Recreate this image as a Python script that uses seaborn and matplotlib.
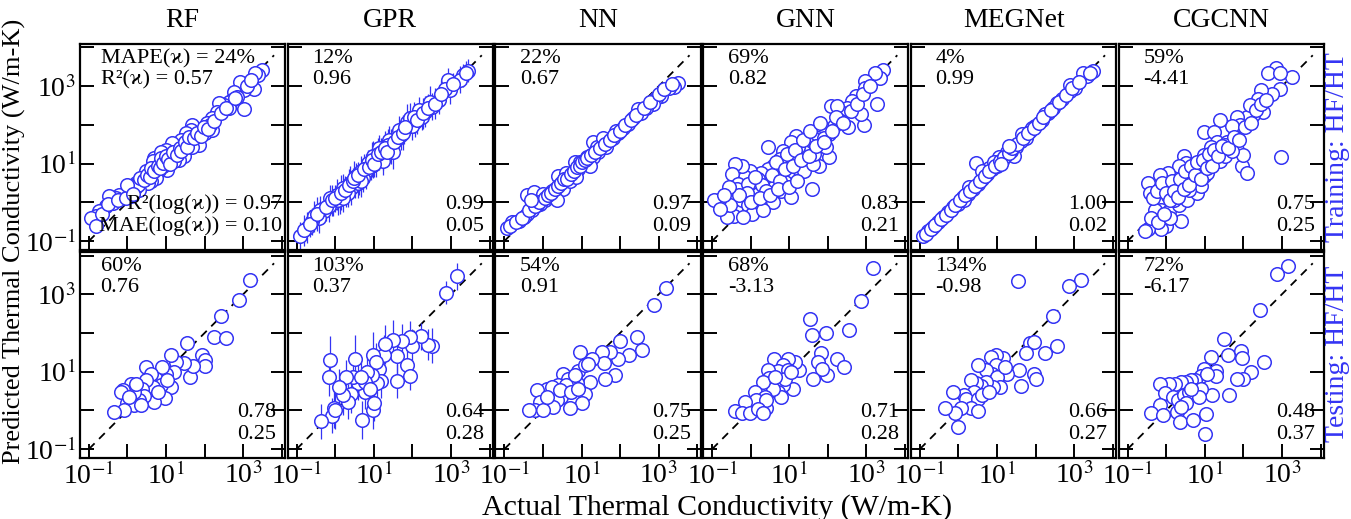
import numpy as np
import pandas as pd
import matplotlib
matplotlib.use("Agg")
import matplotlib.pyplot as plt
import seaborn as sns
from matplotlib.ticker import FixedLocator, NullLocator, FuncFormatter

# ---------------- data (log10 of thermal conductivity) ----------------
models = ["RF", "GPR", "NN", "GNN", "MEGNet", "CGCNN"]

# training: (log10 actual, log10 predicted)
rf_train = [(3.48,3.41),(3.39,3.28),(3.31,3.33),(3.27,2.94),(3.01,2.40),(3.01,2.90),(2.92,3.11),(2.75,2.86),
            (2.71,2.64),(2.62,2.60),(2.49,2.51),(2.36,2.56),(2.32,2.34),(2.19,2.17),(2.06,2.04),(1.94,1.87),
            (1.85,1.74),(1.76,1.61),(1.68,2.00),(1.64,1.87),(1.51,1.78),(1.42,1.48),(1.38,1.61),(1.25,1.40),
            (1.16,1.53),(1.12,1.27),(0.99,1.36),(0.95,1.19),(0.82,1.06),(0.73,0.93),(0.69,1.14),(0.65,0.84),
            (0.56,0.76),(0.48,0.80),(0.39,0.63),(0.35,0.54),(0.22,0.50),(0.13,0.41),(0.05,0.33),(-0.04,0.24),
            (-0.12,0.16),(-0.21,0.20),(-0.30,0.11),(-0.38,-0.01),(-0.47,0.16),(-0.55,-0.10),(-0.73,-0.23),
            (-0.81,-0.36),(-0.94,-0.40),(-0.81,-0.61),(1.46,1.19),(1.33,1.10),(1.21,1.06),(1.03,0.84),
            (0.91,0.93),(0.82,0.84),(0.73,0.63),(0.61,0.54),(0.52,0.50),(0.30,0.33),(0.09,0.16),(1.85,1.49),
            (2.02,1.78),(2.19,1.87),(1.68,1.44),(0.86,1.31),(0.65,1.06),(0.99,1.10),(2.15,2.00),(2.62,2.43),
            (2.84,2.73),
            (0.10,0.30),(0.20,0.38),(0.28,0.45),(0.33,0.62),(0.44,0.58),(0.50,0.70),(0.58,0.66),(0.62,0.90),
            (0.70,0.80),(0.78,0.95),(0.85,0.88),(0.88,1.15),(0.93,1.02),(1.00,1.20),(1.06,1.12),(1.10,1.00),
            (1.18,1.30),(1.28,1.22),(1.35,1.40),(1.40,1.32),(1.50,1.55),(1.55,1.42),(1.60,1.70),(1.72,1.65),
            (1.80,1.80),(1.90,1.72),(1.98,1.95),(2.08,1.90),(2.25,2.10),(2.42,2.30),(2.55,2.45),(2.80,2.70),
            (3.10,3.00),(3.20,3.15),(-0.65,-0.30),(-0.50,-0.05),(-0.25,0.05),(-0.05,0.10),(0.00,0.45),
            (0.15,0.22)]

# GPR training: (log10 actual, log10 predicted, error half-length in decades)
gpr_train = [(3.44,3.40,0.30),(3.31,3.28,0.30),(3.23,3.17,0.35),(2.97,2.90,0.35),(2.93,3.16,0.30),
             (2.68,2.64,0.35),(2.51,2.47,0.35),(2.34,2.34,0.40),(2.25,2.21,0.35),(2.08,2.08,0.40),
             (2.00,1.96,0.35),(1.87,2.08,0.45),(1.78,1.87,0.35),(1.70,1.74,0.40),(1.57,1.61,0.35),
             (1.44,1.44,0.45),(1.31,1.31,0.35),(1.23,1.23,0.40),(1.14,1.14,0.30),(1.06,1.06,0.40),
             (0.93,0.93,0.35),(0.80,0.80,0.45),(0.72,0.63,0.35),(0.63,0.59,0.40),(0.51,0.46,0.35),
             (0.42,0.37,0.45),(0.29,0.24,0.35),(0.12,0.11,0.40),(-0.05,-0.01,0.35),(-0.17,-0.10,0.40),
             (-0.30,-0.23,0.30),(-0.43,-0.40,0.40),(-0.60,-0.49,0.35),(-0.73,-0.66,0.40),(-0.90,-0.87,0.35),
             (1.40,1.61,0.35),(1.49,1.31,0.45),(1.14,1.40,0.35),(0.97,1.19,0.40),(0.85,1.01,0.35),
             (0.68,0.80,0.40),(0.55,0.67,0.35),(0.38,0.50,0.45),(0.21,0.37,0.35),(0.04,0.20,0.40),
             (-0.13,0.11,0.35),(0.08,0.07,0.40),(-0.39,-0.19,0.35),(-0.56,-0.36,0.40),(2.17,2.38,0.35),
             (1.95,2.17,0.40),(1.66,1.87,0.35),(1.36,1.49,0.40),(0.97,0.97,0.35),(0.59,0.50,0.40),
             (0.34,0.24,0.35),(2.85,2.94,0.35),(2.46,2.60,0.40),(1.23,1.06,0.35),(0.68,0.54,0.40),
             (0.21,0.11,0.35),
             (-0.80,-0.72,0.40),(-0.65,-0.55,0.35),(-0.48,-0.30,0.45),(-0.25,-0.12,0.35),(-0.08,0.05,0.40),
             (0.00,0.10,0.35),(0.15,0.25,0.45),(0.25,0.32,0.35),(0.35,0.45,0.40),(0.45,0.55,0.35),
             (0.50,0.62,0.45),(0.60,0.70,0.35),(0.75,0.85,0.40),(0.88,0.92,0.35),(0.95,1.10,0.45),
             (1.00,1.00,0.35),(1.10,1.25,0.40),(1.18,1.30,0.35),(1.28,1.40,0.45),(1.35,1.30,0.35),
             (1.52,1.55,0.40),(1.62,1.70,0.35),(1.75,1.80,0.45),(1.82,1.95,0.35),(2.05,2.20,0.40),
             (2.12,2.12,0.35),(2.28,2.30,0.40),(2.40,2.45,0.35),(2.58,2.55,0.40),(2.75,2.80,0.35),
             (3.05,3.05,0.30),(3.38,3.35,0.30)]

nn_train = [(3.49,3.09),(3.40,2.98),(3.27,2.96),(3.06,2.74),(2.93,2.70),(2.85,2.53),(2.67,2.44),(2.55,2.32),
            (2.33,2.19),(2.20,2.02),(2.07,1.93),(1.94,1.80),(1.82,1.67),(1.69,1.59),(1.56,1.46),(1.30,1.55),
            (1.43,1.29),(1.30,1.16),(1.17,1.07),(1.04,0.99),(0.91,0.86),(0.79,0.77),(0.66,0.65),(0.53,0.47),
            (0.44,0.35),(0.31,0.26),(0.18,0.13),(0.06,0.05),(-0.07,-0.04),(-0.16,-0.08),(-0.29,-0.21),
            (-0.42,-0.30),(-0.50,-0.38),(-0.63,-0.47),(-0.80,-0.51),(-0.93,-0.66),(-0.42,0.20),(-0.24,0.26),
            (0.83,1.03),(1.13,1.16),(0.53,0.35),(0.70,0.56),(0.40,0.69),(0.96,1.03),(1.39,1.42),(1.64,1.42),
            (1.90,1.84),(2.46,2.40),(1.21,0.95),(0.36,0.05),(0.23,0.30),(0.01,0.22),(0.61,0.77),(1.56,1.67),
            (0.87,0.65),
            (-0.85,-0.60),(-0.70,-0.50),(-0.55,-0.40),(-0.35,-0.20),(-0.20,-0.10),(-0.10,0.02),(0.05,0.12),
            (0.12,0.20),(0.22,0.25),(0.30,0.35),(0.38,0.42),(0.47,0.50),(0.55,0.60),(0.62,0.60),(0.72,0.72),
            (0.80,0.82),(0.88,0.92),(0.95,0.95),(1.00,1.05),(1.08,1.10),(1.15,1.15),(1.25,1.22),(1.35,1.30),
            (1.48,1.40),(1.60,1.50),(1.75,1.62),(1.85,1.75),(2.00,1.85),(2.12,2.00),(2.28,2.12),(2.40,2.25),
            (2.62,2.45),(2.78,2.60),(3.00,2.80),(3.15,2.92),(3.35,3.05),(-0.30,0.05)]

gnn_train = [(3.44,3.43),(3.36,3.22),(3.23,3.34),(3.27,2.55),(2.97,3.13),(2.97,2.96),(2.93,2.00),(2.85,2.27),
             (2.72,2.74),(2.63,2.62),(2.50,2.44),(2.38,2.32),(2.52,1.95),(2.08,2.49),(2.33,2.10),(2.16,1.97),
             (2.03,1.76),(1.86,1.93),(1.74,1.67),(2.03,1.18),(1.95,1.42),(1.78,0.95),(1.61,1.67),(1.48,1.50),
             (1.39,1.29),(1.22,1.42),(1.18,1.72),(1.05,1.55),(1.05,1.16),(1.22,0.86),(1.59,0.35),(0.97,0.65),
             (0.88,1.03),(0.84,1.33),(0.75,1.12),(0.71,0.82),(0.58,0.95),(0.45,1.42),(0.45,0.86),(0.50,0.65),
             (0.37,0.52),(0.28,0.77),(0.20,0.60),(0.11,0.39),(0.07,0.13),(0.20,0.22),(-0.02,0.82),(-0.15,0.65),
             (-0.23,0.95),(-0.40,0.99),(-0.49,0.73),(-0.32,0.47),(-0.36,0.35),(-0.23,0.05),(-0.06,-0.08),
             (-0.44,-0.34),(-0.62,-0.38),(-0.66,-0.08),(-0.53,-0.08),(-0.83,0.05),(-0.96,0.05),(-0.79,-0.17),
             (0.58,0.00),(0.79,0.30),(1.39,0.82),(1.61,0.99),(1.05,0.13),(0.03,-0.30),(0.32,-0.21),(0.88,0.52),
             (0.62,0.43),(-0.06,0.47),(-0.19,-0.38),(1.91,1.67),(2.25,2.49),(1.65,1.25),
             (0.30,0.45),(0.40,0.30),(0.55,0.70),(0.65,1.05),(0.75,0.55),(0.90,0.85),(0.95,1.25),(1.10,0.95),
             (1.15,1.35),(1.30,1.10),(1.35,1.60),(1.50,1.20),(1.55,1.85),(1.70,1.45),(1.80,2.05),(1.90,1.55),
             (2.10,1.85),(2.20,2.20),(2.40,2.05),(2.60,2.35),(2.75,2.55),(2.90,2.80),(3.10,3.00),(0.10,0.65),
             (-0.10,0.25),(-0.30,0.20),(0.00,0.00),(0.25,0.10),(0.50,0.20),(0.70,0.35),(1.00,0.40),(1.20,0.55),
             (-0.55,0.40),(-0.70,0.20)]

megnet_train = [(3.49,3.39),(3.32,3.26),(3.02,2.96),(2.89,2.87),(2.68,2.66),(2.46,2.44),(2.33,2.32),
                (2.16,2.14),(1.99,1.97),(1.86,1.84),(1.74,1.67),(1.61,1.59),(1.48,1.42),(1.44,1.20),
                (1.35,1.33),(1.22,1.20),(1.14,1.07),(1.01,0.95),(0.88,0.86),(0.75,0.73),(0.62,0.60),
                (0.45,1.01),(0.50,0.47),(0.37,0.35),(0.24,0.22),(0.11,0.13),(-0.02,-0.04),(-0.15,-0.13),
                (-0.27,-0.25),(-0.40,-0.38),(-0.53,-0.51),(-0.66,-0.64),(-0.79,-0.73),(-0.91,-0.88),
                (1.05,1.16),(0.79,0.90),(0.92,1.03),(0.67,0.73),(0.28,0.39),(1.65,1.76),(1.91,1.93),
                (2.55,2.57),(2.89,3.04),(3.23,3.34),(2.25,2.27),(1.26,1.29),(0.62,0.82),(0.15,0.05),
                (-0.85,-0.82),(-0.72,-0.70),(-0.60,-0.58),(-0.45,-0.44),(-0.33,-0.32),(-0.20,-0.20),
                (-0.08,-0.08),(0.05,0.05),(0.18,0.18),(0.30,0.30),(0.42,0.42),(0.55,0.55),(0.70,0.68),
                (0.80,0.80),(0.95,0.93),(1.08,1.08),(1.18,1.16),(1.30,1.28),(1.40,1.40),(1.52,1.50),
                (1.68,1.66),(1.80,1.78),(1.95,1.93),(2.08,2.06),(2.20,2.20),(2.40,2.38),(2.60,2.60),
                (2.78,2.78),(2.95,2.95),(3.12,3.12),(3.40,3.35),(1.32,1.45),(1.10,1.00)]

cgcnn_train = [(3.26,3.24),(2.85,3.46),(2.64,3.34),(2.94,3.33),(2.94,2.92),(2.73,2.81),(2.47,2.90),
               (2.38,2.68),(2.51,2.34),(2.26,2.26),(2.09,2.21),(1.83,2.21),(1.92,2.00),(1.70,1.96),
               (1.40,2.13),(0.98,1.83),(1.23,1.83),(1.32,1.57),(1.15,1.44),(1.57,1.57),(1.83,1.36),
               (1.96,0.93),(2.09,0.76),(2.00,1.23),(2.98,1.17),(0.47,1.19),(0.51,1.01),(0.34,0.93),
               (0.04,0.76),(-0.17,0.71),(-0.47,0.50),(-0.43,0.24),(-0.17,0.37),(0.04,0.41),(0.25,0.54),
               (0.55,0.67),(0.72,0.84),(0.89,0.93),(1.06,1.06),(1.28,1.14),(0.76,0.46),(0.98,0.67),
               (0.64,0.59),(0.38,0.29),(0.17,0.16),(-0.05,0.07),(-0.22,0.03),(-0.13,-0.19),(0.08,-0.23),
               (-0.30,-0.40),(0.00,-0.61),(-0.13,-0.70),(0.38,-0.49),(-0.47,-0.70),(-0.56,-0.74),
               (0.34,-0.06),(0.55,0.07),(0.81,0.24),(0.25,0.41),(0.47,0.54),(0.72,0.63),(0.89,0.41),
               (1.06,0.76),(1.40,1.06),(1.53,1.19),(1.70,1.32),(-0.30,-0.19),(0.04,0.16),(0.21,0.07),
               (0.59,0.33),(0.98,1.23),(1.53,1.48),(2.17,2.51),(2.34,2.38),
               (-0.35,0.10),(-0.25,0.30),(-0.10,0.50),(0.00,0.25),(0.10,0.05),(0.15,0.55),(0.20,0.30),
               (0.30,0.15),(0.35,0.60),(0.45,0.35),(0.50,0.80),(0.60,0.45),(0.65,0.95),(0.75,0.70),
               (0.80,1.05),(0.90,0.60),(0.95,1.10),(1.05,0.90),(1.10,1.25),(1.20,0.95),(1.25,1.35),
               (1.35,1.20),(1.45,1.45),(1.60,1.40),(1.75,1.70),(1.90,1.60),(2.05,1.95),(2.20,2.05),
               (2.45,2.55),(2.60,2.65),(-0.40,-0.40),(-0.20,-0.50),(0.10,-0.40),(-0.05,-0.30)]

# testing: (log10 actual, log10 predicted)
rf_test = [(3.18,3.36),(2.88,2.86),(2.43,2.43),(2.24,1.90),(2.56,1.87),(1.55,1.74),(1.94,1.44),(2.00,1.31),
           (2.02,1.14),(1.61,0.85),(1.70,1.14),(1.46,1.23),(1.25,1.25),(1.12,1.44),(1.21,0.99),(1.00,0.95),
           (0.89,1.12),(0.73,0.82),(0.48,1.12),(0.61,0.95),(1.12,0.61),(0.97,0.31),(0.86,0.65),(0.67,0.61),
           (0.48,0.78),(0.39,0.56),(0.69,0.22),(0.42,0.38),(0.30,0.26),(0.18,0.48),(0.09,0.69),(-0.12,0.52),
           (-0.17,0.48),(0.00,0.18),(0.18,0.15),(0.35,0.13),(-0.08,0.00),(-0.34,-0.04),(0.05,0.35),
           (0.22,0.69),(0.78,0.48),(1.03,0.78)]

gpr_test = [(3.16,3.46,0.35),(2.86,3.04,0.30),(2.52,1.67,0.45),(2.40,1.70,0.40),(2.23,1.91,0.35),
            (2.00,1.66,0.45),(1.94,1.90,0.40),(1.72,1.79,0.45),(1.51,1.83,0.50),(1.59,1.40,0.45),
            (1.85,1.18,0.40),(1.94,0.88,0.35),(1.61,0.76,0.45),(1.27,1.44,0.50),(1.14,1.08,0.45),
            (0.99,1.42,0.60),(1.06,1.25,0.50),(1.19,0.76,0.45),(1.09,0.71,0.40),(0.96,0.91,0.50),
            (0.83,0.99,0.45),(0.76,0.48,0.45),(0.99,0.01,0.50),(1.01,0.18,0.45),(0.70,-0.25,0.50),
            (0.59,0.71,0.45),(0.51,1.34,0.60),(0.46,0.87,0.50),(0.29,0.85,0.45),(0.42,0.42,0.50),
            (0.32,0.22,0.45),(0.19,0.39,0.50),(0.11,0.61,0.45),(-0.03,0.05,0.50),(-0.13,1.31,0.60),
            (-0.15,0.87,0.50),(-0.09,-0.14,0.45),(0.00,0.01,0.50),(-0.36,-0.28,0.45),(0.76,0.73,0.45),
            (0.68,0.87,0.50),(0.89,0.56,0.45),(1.30,1.71,0.50)]

nn_test = [(3.19,3.15),(2.87,2.71),(2.44,1.89),(2.56,1.55),(2.24,1.44),(2.00,1.78),(1.94,1.33),(1.73,1.52),
           (1.53,1.52),(1.86,0.92),(1.61,0.80),(1.58,1.23),(1.26,1.33),(0.96,1.52),(1.21,0.73),(1.09,0.43),
           (0.89,0.72),(1.00,0.18),(0.70,0.05),(0.51,0.95),(0.66,0.82),(0.79,0.65),(0.91,1.03),(1.09,1.16),
           (0.40,0.65),(0.27,0.43),(0.48,0.35),(0.36,0.26),(0.27,0.09),(0.10,0.56),(-0.16,0.52),(-0.07,0.22),
           (-0.20,0.00),(-0.37,0.02),(0.01,0.00),(0.23,0.61),(0.61,0.65),(0.83,0.91),(1.17,1.21),(0.10,0.35),
           (0.44,0.52),(0.74,0.48),(0.91,0.56)]

gnn_test = [(3.17,3.68),(2.86,2.82),(1.55,2.37),(1.59,1.94),(1.95,2.01),(2.55,2.07),(1.82,1.49),(1.74,1.24),
            (2.23,1.32),(2.42,1.12),(1.99,0.91),(1.85,1.06),(1.61,0.82),(1.26,1.04),(1.15,1.24),(0.97,1.34),
            (0.61,1.34),(0.84,1.18),(0.71,1.01),(0.45,1.04),(0.48,0.84),(0.97,1.04),(1.09,0.55),(0.84,0.65),
            (0.90,0.82),(0.71,0.48),(0.79,0.35),(0.58,0.56),(0.32,0.74),(0.11,0.48),(0.37,0.35),(0.15,0.26),
            (0.41,0.05),(0.41,0.28),(-0.15,0.22),(-0.40,-0.02),(-0.23,-0.08),(-0.02,-0.08),(0.20,0.03),
            (0.32,-0.08),(0.62,0.87),(1.05,0.99)]

megnet_test = [(1.55,3.33),(3.17,3.36),(2.87,3.21),(2.44,2.44),(2.55,1.67),(2.25,1.47),(1.86,1.73),
               (1.97,1.77),(1.74,1.49),(1.58,1.04),(1.61,0.63),(1.97,0.95),(2.02,0.82),(1.26,0.93),
               (1.15,1.36),(0.98,1.42),(0.84,1.38),(0.97,1.17),(0.86,0.95),(0.71,1.04),(0.50,1.18),
               (1.01,0.87),(1.09,0.61),(0.90,0.61),(0.71,0.74),(0.58,0.63),(0.45,0.71),(0.32,0.78),
               (0.41,0.48),(0.15,0.41),(-0.15,0.48),(0.20,0.29),(0.50,0.29),(0.32,0.05),(0.50,-0.02),
               (0.07,0.05),(-0.10,-0.06),(-0.36,0.05),(-0.02,-0.42),(0.62,0.39),(1.22,1.13),(0.79,0.48)]

cgcnn_test = [(3.15,3.72),(2.87,3.53),(2.43,2.60),(1.51,1.84),(1.60,1.42),(1.93,1.54),(1.96,1.36),
              (2.53,1.24),(2.21,0.98),(2.00,0.80),(1.83,0.82),(1.62,0.39),(1.15,1.38),(1.28,1.02),
              (1.28,0.88),(1.19,0.39),(0.98,1.08),(0.89,0.88),(0.76,0.78),(0.64,0.78),(0.51,0.74),
              (0.38,0.74),(0.23,0.69),(0.08,0.68),(-0.17,0.68),(-0.02,0.44),(0.17,0.35),(0.30,0.26),
              (0.47,0.39),(0.59,0.48),(0.76,0.52),(0.89,0.56),(-0.17,0.14),(-0.39,-0.06),(-0.09,-0.12),
              (0.28,-0.04),(0.36,-0.29),(0.70,-0.25),(1.02,-0.10),(1.00,-0.61),(0.85,0.35),(0.51,0.18),
              (0.38,0.09),(1.06,0.95),(0.64,0.56)]

train_top_text = ["MAPE(ϰ) = 24%\nR²(ϰ) = 0.57", "12%\n0.96", "22%\n0.67", "69%\n0.82", "4%\n0.99", "59%\n-4.41"]
train_bot_text = ["R²(log(ϰ)) = 0.97\nMAE(log(ϰ)) = 0.10", "0.99\n0.05", "0.97\n0.09", "0.83\n0.21", "1.00\n0.02", "0.75\n0.25"]
test_top_text = ["60%\n0.76", "103%\n0.37", "54%\n0.91", "68%\n-3.13", "134%\n-0.98", "72%\n-6.17"]
test_bot_text = ["0.78\n0.25", "0.64\n0.28", "0.75\n0.25", "0.71\n0.28", "0.66\n0.27", "0.48\n0.37"]

tick_exponents = [-1, 0, 1, 2, 3, 4]
labeled_exponents = [-1, 1, 3]
diag_range = [0.1, 6300.0]
axis_limits = [10 ** -1.23, 10 ** 4.09]

# ---------------- style ----------------
sns.set_theme(style="ticks")
plt.rcParams["font.family"] = ["Liberation Serif", "DejaVu Serif"]
plt.rcParams["mathtext.fontset"] = "stix"
plt.rcParams["text.color"] = "black"
plt.rcParams["axes.labelcolor"] = "black"
plt.rcParams["axes.titlecolor"] = "black"
plt.rcParams["xtick.color"] = "black"
plt.rcParams["ytick.color"] = "black"
plt.rcParams["xtick.labelcolor"] = "black"
plt.rcParams["ytick.labelcolor"] = "black"
BLUE = "#3434f4"

train_sets = [rf_train, gpr_train, nn_train, gnn_train, megnet_train, cgcnn_train]
test_sets = [rf_test, gpr_test, nn_test, gnn_test, megnet_test, cgcnn_test]


def to_frame(points):
    arr = np.array(points, dtype=float)
    df = pd.DataFrame({"actual": 10 ** arr[:, 0], "pred": 10 ** arr[:, 1]})
    if arr.shape[1] > 2:
        df["lo"] = df["pred"] - 10 ** (arr[:, 1] - arr[:, 2])
        df["hi"] = 10 ** (arr[:, 1] + arr[:, 2]) - df["pred"]
    return df


fig = plt.figure(figsize=(13.51, 5.19), dpi=100)
axes = fig.subplots(2, 6)
fig.subplots_adjust(left=0.0592, right=0.980, top=0.9152, bottom=0.1175, wspace=0.012, hspace=0.010)

fmt = FuncFormatter(lambda v, p: ("10$^{%d}$" % round(np.log10(v))) if round(np.log10(v)) in labeled_exponents else "")

for r, (sets, top_txt, bot_txt) in enumerate([(train_sets, train_top_text, train_bot_text),
                                               (test_sets, test_top_text, test_bot_text)]):
    for c in range(6):
        ax = axes[r, c]
        ax.set_xscale("log")
        ax.set_yscale("log")
        ax.set_xlim(axis_limits)
        ax.set_ylim(axis_limits)
        df = to_frame(sets[c])
        ax.plot(diag_range, diag_range, color="black", ls=(0, (4.5, 3.5)), lw=1.3, zorder=2)
        if "lo" in df:
            ax.errorbar(df["actual"], df["pred"], yerr=[df["lo"], df["hi"]], fmt="none",
                        ecolor=BLUE, elinewidth=0.9, capsize=0, zorder=2.5)
        sns.scatterplot(data=df, x="actual", y="pred", ax=ax, s=95, facecolor="white",
                        edgecolor=BLUE, linewidth=1.1, zorder=3, legend=False)
        ax.set_xlabel("")
        ax.set_ylabel("")
        for spine in ax.spines.values():
            spine.set_visible(True)
            spine.set_linewidth(1.6)
            spine.set_color("black")
        locs = [10.0 ** e for e in tick_exponents]
        ax.xaxis.set_major_locator(FixedLocator(locs))
        ax.yaxis.set_major_locator(FixedLocator(locs))
        ax.xaxis.set_minor_locator(NullLocator())
        ax.yaxis.set_minor_locator(NullLocator())
        ax.xaxis.set_major_formatter(fmt)
        ax.yaxis.set_major_formatter(fmt)
        ax.tick_params(which="major", direction="in", length=10, width=1.4, top=False, right=True,
                       bottom=True, left=True, labelsize=20, pad=3, color="black", labelcolor="black",
                       labelbottom=(r == 1), labelleft=(c == 0))
        ax.grid(False)
        tx = 0.10 if c == 0 else 0.12
        ax.text(tx, 0.975, top_txt[c], transform=ax.transAxes, ha="left", va="top",
                fontsize=16, linespacing=1.15, color="black")
        bx = 0.985 if (c == 0 and r == 0) else 0.955
        ax.text(bx, 0.07, bot_txt[c], transform=ax.transAxes, ha="right", va="bottom",
                fontsize=16, linespacing=1.15, color="black")
        if r == 0:
            ax.set_title(models[c], fontsize=20, pad=12, color="black")

fig.text(0.531, 0.023, "Actual Thermal Conductivity (W/m-K)", ha="center", va="center",
         fontsize=21.5, color="black")
fig.text(0.011, 0.534, "Predicted Thermal Conductivity (W/m-K)", ha="center", va="center",
         rotation=90, fontsize=19, color="black")
fig.text(0.990, 0.717, "Training: HF/HT", ha="center", va="center", rotation=90, fontsize=20, color=BLUE)
fig.text(0.990, 0.318, "Testing: HF/HT", ha="center", va="center", rotation=90, fontsize=20, color=BLUE)

fig.savefig("out.png", dpi=100)
